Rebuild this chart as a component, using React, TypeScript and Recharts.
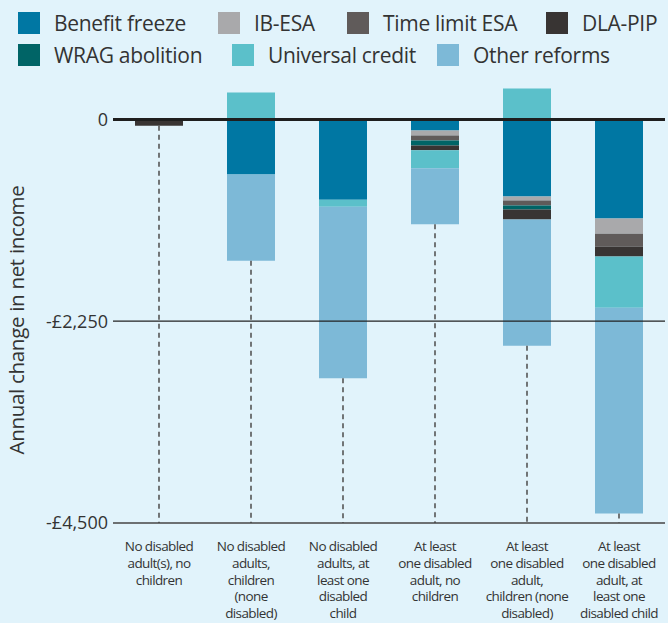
import { BarChart, Bar, XAxis, YAxis, ReferenceLine } from "recharts"

const BG = "#E1F3FB"
const TEXT = "#333333"
const FONT = "'Open Sans', 'Noto Sans', sans-serif"

// category labels, lines split with "|"
const CATEGORIES = [
  "No disabled|adult(s), no|children",
  "No disabled|adults,|children|(none|disabled)",
  "No disabled|adults, at|least one|disabled|child",
  "At least|one disabled|adult, no|children",
  "At least|one disabled|adult,|children (none|disabled)",
  "At least|one disabled|adult, at|least one|disabled child",
]

// annual change in net income, £ (stacked in this order)
const BENEFIT_FREEZE = [0, -615, -895, -125, -860, -1105]
const IB_ESA = [0, 0, 0, -55, -45, -170]
const TIME_LIMIT_ESA = [0, 0, 0, -55, -55, -145]
const WRAG_ABOLITION = [0, 0, 0, -55, -45, 0]
const DLA_PIP = [-70, 0, 0, -55, -110, -110]
const UNIVERSAL_CREDIT = [0, 300, -80, -200, 345, -570]
const OTHER_REFORMS = [0, -960, -1910, -625, -1410, -2295]

const Y_TICKS = [0, -2250, -4500]
const Y_MIN = -4500
const Y_MAX = 350

const SERIES = [
  { key: "bf", name: "Benefit freeze", color: "#0077A3", values: BENEFIT_FREEZE },
  { key: "ib", name: "IB-ESA", color: "#A9A9AB", values: IB_ESA },
  { key: "tl", name: "Time limit ESA", color: "#605B5A", values: TIME_LIMIT_ESA },
  { key: "wrag", name: "WRAG abolition", color: "#006466", values: WRAG_ABOLITION },
  { key: "dla", name: "DLA-PIP", color: "#383433", values: DLA_PIP },
  { key: "uc", name: "Universal credit", color: "#5BC0CA", values: UNIVERSAL_CREDIT },
  { key: "other", name: "Other reforms", color: "#7DB9D7", values: OTHER_REFORMS },
]

const LEGEND_ROWS = [
  [["bf", 18], ["ib", 218], ["tl", 347], ["dla", 546]],
  [["wrag", 18], ["uc", 232], ["other", 437]],
] as const

const chartData = CATEGORIES.map((name, i) => {
  const row: Record<string, number | string> = { name }
  let neg = 0
  SERIES.forEach((s) => {
    row[s.key] = s.values[i]
    if (s.values[i] < 0) neg += s.values[i]
  })
  row.bottom = neg
  return row
})

function fmtY(v: number) {
  if (v === 0) return "0"
  return "-£" + Math.abs(v).toLocaleString("en-GB")
}

function CategoryTick({ x, y, payload }: any) {
  const lines = String(payload.value).split("|")
  return (
    <text x={x} y={y + 26} textAnchor="middle" fontSize={13.5} fill={TEXT}
      fontFamily={FONT} letterSpacing={-0.6}>
      {lines.map((l, i) => (
        <tspan key={i} x={x} dy={i === 0 ? 0 : 16.8}>{l}</tspan>
      ))}
    </text>
  )
}

function Legend() {
  return (
    <>
      {LEGEND_ROWS.map((row, r) =>
        row.map(([key, left]) => {
          const s = SERIES.find((d) => d.key === key)!
          const top = r === 0 ? 12 : 44
          return (
            <div key={key} style={{ position: "absolute", left, top, display: "flex", alignItems: "center" }}>
              <span style={{ display: "inline-block", width: 22, height: 22, background: s.color }} />
              <span style={{ marginLeft: 14, fontSize: 21, color: TEXT, fontFamily: FONT, lineHeight: "22px", letterSpacing: -0.3 }}>
                {s.name}
              </span>
            </div>
          )
        })
      )}
    </>
  )
}

export default function App() {
  return (
    <div style={{ position: "absolute", left: 0, top: 0, width: 668, height: 623, background: BG, overflow: "hidden" }}>
      <Legend />
      <BarChart
        width={668} height={623} data={chartData} stackOffset="sign"
        margin={{ top: 88, right: 3, bottom: 0, left: 0 }} barSize={48}
      >
        <XAxis
          dataKey="name" interval={0} tickLine={false} tickSize={0}
          axisLine={{ stroke: "#444444", strokeWidth: 1.5 }}
          tick={<CategoryTick />} height={100}
        />
        <YAxis
          width={113} domain={[Y_MIN, Y_MAX]} ticks={Y_TICKS} tickFormatter={fmtY}
          axisLine={false} tickLine={false} tickSize={0} tickMargin={5}
          tick={{ fontSize: 18, fill: TEXT, fontFamily: FONT }}
          label={{
            content: () => (
              <text x={16} y={320} transform="rotate(-90 16 320)" textAnchor="middle"
                dominantBaseline="central"
                fontSize={20.5} fill={TEXT} fontFamily={FONT} letterSpacing={-0.3}>
                Annual change in net income
              </text>
            ),
          }}
        />
        {chartData.map((d) => (
          <ReferenceLine
            key={"drop" + d.name}
            segment={[{ x: d.name, y: d.bottom as number }, { x: d.name, y: Y_MIN }]}
            stroke="#555555" strokeWidth={1.6} strokeDasharray="5 4"
          />
        ))}
        {SERIES.map((s) => (
          <Bar key={s.key} dataKey={s.key} name={s.name} stackId="a" fill={s.color} isAnimationActive={false} />
        ))}
        <ReferenceLine y={-2250} stroke="#222222" strokeWidth={1.2} />
        <ReferenceLine y={0} stroke="#1E1E1E" strokeWidth={3} />
      </BarChart>
    </div>
  )
}
